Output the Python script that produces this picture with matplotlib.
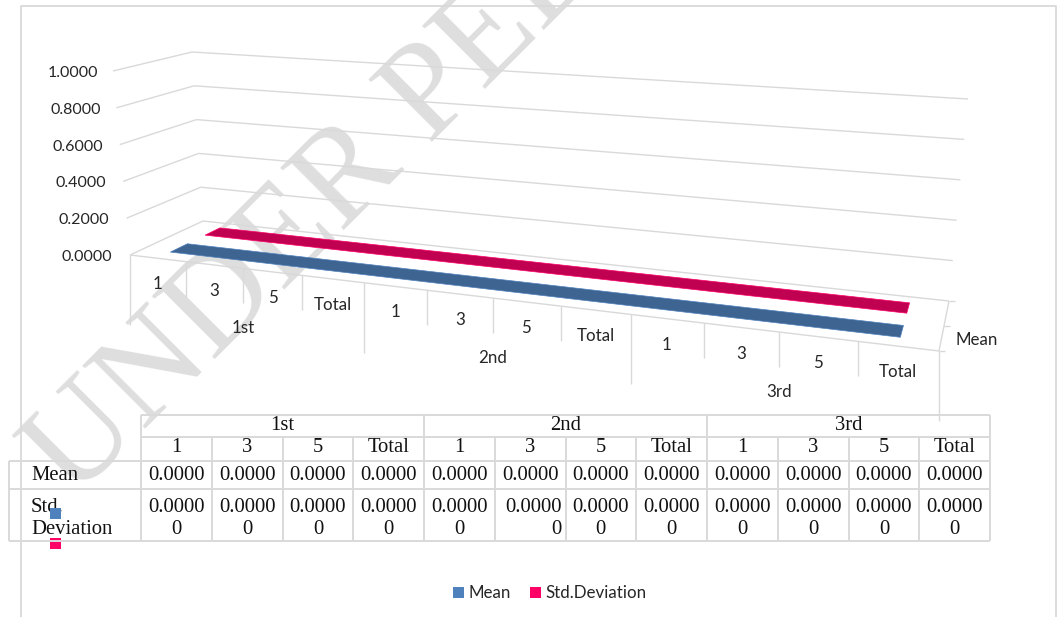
import numpy as np
import matplotlib
matplotlib.use("Agg")
import matplotlib.pyplot as plt
from matplotlib.patches import Polygon, Rectangle

# dados
grupos = ["1st", "2nd", "3rd"]
niveis = ["1", "3", "5", "Total"] * 3
media = [0.0] * 12
desvio = [0.0] * 12
ticks_y = [0.0, 0.2, 0.4, 0.6, 0.8, 1.0]
serie_labels = ["Mean", "Std.Deviation"]

# estilo
COR_GRADE = "#D9D9D9"
COR_TEXTO = "#262626"
COR_MEDIA = "#4F81BD"
COR_MEDIA_ESC = "#3E6491"
COR_DESVIO = "#FF0066"
COR_DESVIO_ESC = "#C00050"
SANS = "Lato"
SERIF = "Liberation Serif"
TAM_SANS = 12.2

fig = plt.figure(figsize=(10.59, 6.17), dpi=100)
ax = fig.add_axes([0, 0, 1, 1])
ax.set_xlim(0, 1059)
ax.set_ylim(617, 0)
ax.axis("off")

# cantos da caixa 3D em pixels (frente/fundo, base/topo)
FL0, FR0 = np.array([130.0, 255.0]), np.array([939.0, 351.0])
BL0, BR0 = np.array([203.0, 221.0]), np.array([949.0, 301.0])
FL1, FR1 = np.array([113.0, 71.0]), np.array([958.0, 149.0])
BL1, BR1 = np.array([192.0, 52.0]), np.array([968.0, 99.0])


# categoria i (0..12), profundidade d (0..1), valor v (0..1) -> pixel
def proj(i, d, v):
    t = i / 12
    w = t / (t + 1.23 * (1 - t))
    base = (1 - d) * (FL0 + w * (FR0 - FL0)) + d * (BL0 + w * (BR0 - BL0))
    topo = (1 - d) * (FL1 + w * (FR1 - FL1)) + d * (BL1 + w * (BR1 - BL1))
    return (1 - v) * base + v * topo


def linha(p, q, lw=1.0):
    ax.plot([p[0], q[0]], [p[1], q[1]], color=COR_GRADE, lw=lw, zorder=2,
            solid_capstyle="butt")


# marca d'agua
ax.text(74, 501, "UNDER PEER REVIEW", family=SERIF, fontsize=98, color="#DEDEDE",
        rotation=45, rotation_mode="anchor", ha="left", va="baseline", zorder=1)

# borda do grafico
ax.plot([21, 21, 1056, 1056], [617, 6, 6, 617], color=COR_GRADE, lw=1.3, zorder=2)

# paredes
for v in ticks_y:
    a, b, c = proj(0, 0, v), proj(0, 1, v), proj(12, 1, v)
    linha(a, b)
    linha(b, c)
    ax.text(a[0] - 18 + 3 * v, a[1] + 2, f"{v:.4f}", family=SANS, fontsize=11.5,
            color=COR_TEXTO, ha="right", va="center", zorder=5)

# chao
linha(proj(0, 0, 0), proj(12, 0, 0))
linha(proj(12, 0, 0), proj(12, 1, 0))
for d in [0.0, 0.5, 1.0]:
    p = proj(12, d, 0)
    linha(p, p + np.array([6, 0]))

# ticks e rotulos do eixo x
for i in range(13):
    p = proj(i, 0, 0)
    comp = 70 if i % 4 == 0 else 35
    linha(p, p + np.array([0, comp]))
for i, nome in enumerate(niveis):
    p = proj(i + 0.5, 0, 0)
    ax.text(p[0], p[1] + 26, nome, family=SANS, fontsize=TAM_SANS, color=COR_TEXTO,
            ha="center", va="center", zorder=5)
for g, nome in enumerate(grupos):
    p = proj(4 * g + 2, 0, 0)
    ax.text(p[0], p[1] + 60, nome, family=SANS, fontsize=TAM_SANS, color=COR_TEXTO,
            ha="center", va="center", zorder=5)
ax.text(977, 340, serie_labels[0], family=SANS, fontsize=TAM_SANS, color=COR_TEXTO,
        ha="center", va="center", zorder=5)


# series: faixas sobre o chao
def faixa(valores, d1, d2, cor, cor_borda):
    idx = np.arange(len(valores)) + 0.5
    frente = [proj(i, d1, v) for i, v in zip(idx, valores)]
    fundo = [proj(i, d2, v) for i, v in zip(idx, valores)]
    ax.add_patch(Polygon(frente + fundo[::-1], closed=True, facecolor=cor,
                         edgecolor=cor_borda, lw=0.5, zorder=3))


faixa(media, 0.18, 0.42, COR_MEDIA_ESC, COR_MEDIA)
faixa(desvio, 0.67, 0.88, COR_DESVIO_ESC, COR_DESVIO)

# tabela de dados
xs = np.linspace(141, 990, 13)
ys = [415, 437, 461, 489, 541]
for y in ys[:2]:
    linha((141, y), (990, y), 1.4)
for y in ys[2:]:
    linha((9, y), (990, y), 1.4)
for k, x in enumerate(xs):
    if k % 4 == 0:
        linha((x, ys[0]), (x, ys[4]), 1.4)
    else:
        linha((x, ys[1]), (x, ys[4]), 1.4)
linha((9, ys[2]), (9, ys[4]), 1.4)

fonte_tab = dict(family=SERIF, fontsize=14.9, color="#111111", va="center", zorder=6)
for g, nome in enumerate(grupos):
    ax.text(xs[4 * g] + 2 * (xs[1] - xs[0]), 426, nome, ha="center", **fonte_tab)
for k, nome in enumerate(niveis):
    cx = (xs[k] + xs[k + 1]) / 2
    ax.text(cx, 448, nome, ha="center", **fonte_tab)
    ax.text(cx, 476, f"{media[k]:.4f}", ha="center", **fonte_tab)
    txt = f"{desvio[k]:.5f}"
    if k == 5:
        # essa coluna esta alinhada a direita no original
        ax.text(xs[k + 1] - 4, 508, txt[:-1], ha="right", **fonte_tab)
        ax.text(xs[k + 1] - 4, 529, txt[-1], ha="right", **fonte_tab)
    else:
        ax.text(cx, 508, txt[:-1], ha="center", **fonte_tab)
        ax.text(cx, 529, txt[-1], ha="center", **fonte_tab)

ax.text(31, 476, serie_labels[0], ha="left", **fonte_tab)
ax.text(31, 508, "Std.", ha="left", **fonte_tab)
ax.text(31, 529, "Deviation", ha="left", **fonte_tab)

# chaves da legenda na tabela
ax.add_patch(Rectangle((50, 508), 11, 11, facecolor=COR_MEDIA, zorder=7))
ax.add_patch(Rectangle((50, 538), 11, 11, facecolor=COR_DESVIO, zorder=1.5))

# legenda
ax.add_patch(Rectangle((453, 587), 11, 11, facecolor=COR_MEDIA, zorder=5))
ax.text(468, 593, serie_labels[0], family=SANS, fontsize=TAM_SANS, color=COR_TEXTO,
        ha="left", va="center", zorder=5)
ax.add_patch(Rectangle((530, 587), 11, 11, facecolor=COR_DESVIO, zorder=5))
ax.text(545, 593, serie_labels[1], family=SANS, fontsize=TAM_SANS, color=COR_TEXTO,
        ha="left", va="center", zorder=5)

fig.savefig("out.png", dpi=100)
